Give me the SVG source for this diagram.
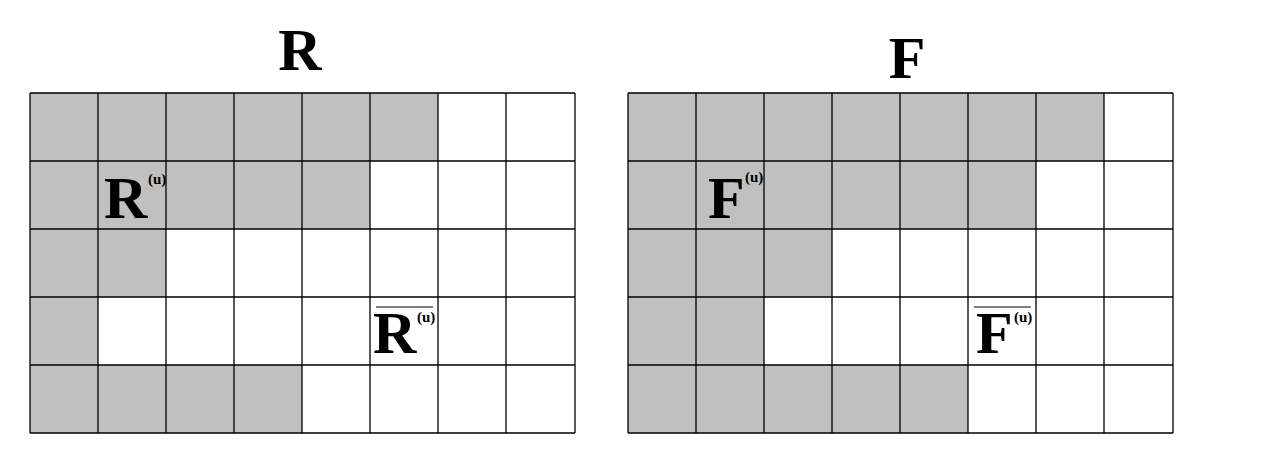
<svg xmlns="http://www.w3.org/2000/svg" width="1261" height="461" viewBox="0 0 1261 461">
<style>
.g{fill:#c0c0c0;stroke:none}
.ln{stroke:#000;stroke-width:1.3;fill:none}
.big{font-family:"Liberation Serif","Times New Roman",serif;font-weight:bold;font-size:60px;fill:#000}
.sup{font-family:"Liberation Serif","Times New Roman",serif;font-weight:bold;font-size:15px;fill:#000}
.bar{stroke:#000;stroke-width:1.2}
</style>
<rect width="1261" height="461" fill="#fff"/>
<g id="gridR">
<rect class="g" x="30" y="93" width="408" height="68"/>
<rect class="g" x="30" y="161" width="340" height="68"/>
<rect class="g" x="30" y="229" width="136" height="68"/>
<rect class="g" x="30" y="297" width="68" height="68"/>
<rect class="g" x="30" y="365" width="272" height="68"/>
<path class="ln" d="M30,93H575M30,161H575M30,229H575M30,297H575M30,365H575M30,433H575M30,93V433M98,93V433M166,93V433M234,93V433M302,93V433M370,93V433M438,93V433M506,93V433M575,93V433"/>
</g>
<g id="gridF">
<rect class="g" x="628" y="93" width="476" height="68"/>
<rect class="g" x="628" y="161" width="408" height="68"/>
<rect class="g" x="628" y="229" width="204" height="68"/>
<rect class="g" x="628" y="297" width="136" height="68"/>
<rect class="g" x="628" y="365" width="340" height="68"/>
<path class="ln" d="M628,93H1173M628,161H1173M628,229H1173M628,297H1173M628,365H1173M628,433H1173M628,93V433M696,93V433M764,93V433M832,93V433M900,93V433M968,93V433M1036,93V433M1104,93V433M1173,93V433"/>
</g>
<g id="titleR"><text class="big" x="300" y="70" text-anchor="middle">R</text></g>
<g id="titleF"><text class="big" x="907" y="78" text-anchor="middle">F</text></g>
<g id="Ru"><text class="big" x="104" y="218">R</text><text class="sup" x="148" y="184">(u)</text></g>
<g id="Fu"><text class="big" x="708" y="218">F</text><text class="sup" x="745" y="182">(u)</text></g>
<g id="Rbar"><line class="bar" x1="376" y1="307" x2="433" y2="307"/><text class="big" x="373" y="353">R</text><text class="sup" x="417" y="322">(u)</text></g>
<g id="Fbar"><line class="bar" x1="974" y1="307" x2="1031" y2="307"/><text class="big" x="976" y="353">F</text><text class="sup" x="1014" y="322">(u)</text></g>
<g id="connectors"/>
</svg>
